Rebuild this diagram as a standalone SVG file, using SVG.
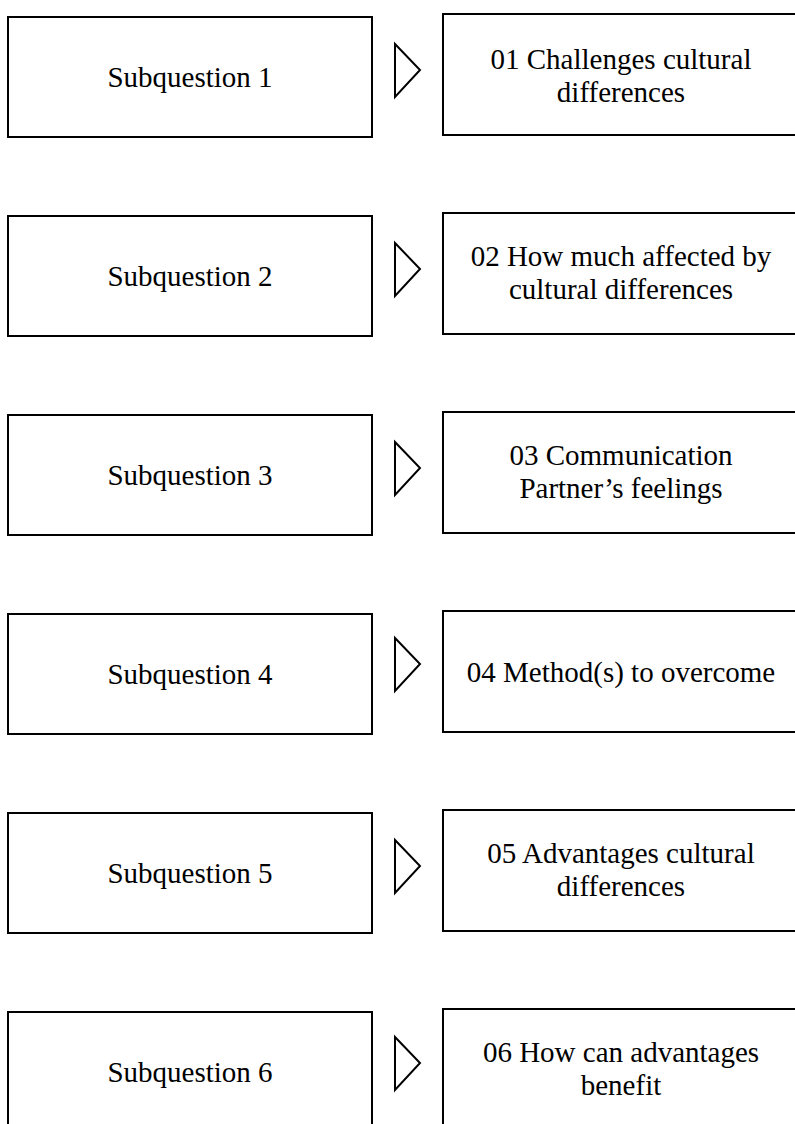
<svg xmlns="http://www.w3.org/2000/svg" width="795" height="1124" viewBox="0 0 795 1124">
<style>
.box{fill:#fff;stroke:#000;stroke-width:2}
.tri{fill:#fff;stroke:#000;stroke-width:2;stroke-linejoin:miter}
text{font-family:"Liberation Serif","Times New Roman",serif;font-size:29px;fill:#000;text-anchor:middle}
</style>
<rect width="795" height="1124" fill="#fff"/>
<g id="q1"><rect class="box" x="8" y="17" width="364" height="120"/><text x="190" y="87">Subquestion 1</text></g>
<g id="a1"><rect class="box" x="443" y="14" width="360" height="121"/><text x="621" y="69">01 Challenges cultural</text><text x="621" y="102">differences</text></g>
<g id="q2"><rect class="box" x="8" y="216" width="364" height="120"/><text x="190" y="286">Subquestion 2</text></g>
<g id="a2"><rect class="box" x="443" y="213" width="360" height="121"/><text x="621" y="266">02 How much affected by</text><text x="621" y="299">cultural differences</text></g>
<g id="q3"><rect class="box" x="8" y="415" width="364" height="120"/><text x="190" y="485">Subquestion 3</text></g>
<g id="a3"><rect class="box" x="443" y="412" width="360" height="121"/><text x="621" y="465">03 Communication</text><text x="621" y="498">Partner’s feelings</text></g>
<g id="q4"><rect class="box" x="8" y="614" width="364" height="120"/><text x="190" y="684">Subquestion 4</text></g>
<g id="a4"><rect class="box" x="443" y="611" width="360" height="121"/><text x="621" y="682">04 Method(s) to overcome</text></g>
<g id="q5"><rect class="box" x="8" y="813" width="364" height="120"/><text x="190" y="883">Subquestion 5</text></g>
<g id="a5"><rect class="box" x="443" y="810" width="360" height="121"/><text x="621" y="863">05 Advantages cultural</text><text x="621" y="896">differences</text></g>
<g id="q6"><rect class="box" x="8" y="1012" width="364" height="120"/><text x="190" y="1082">Subquestion 6</text></g>
<g id="a6"><rect class="box" x="443" y="1009" width="360" height="121"/><text x="621" y="1062">06 How can advantages</text><text x="621" y="1095">benefit</text></g>
<g id="connectors">
<polygon class="tri" points="395,44 420,70 395,97"/>
<polygon class="tri" points="395,243 420,269 395,296"/>
<polygon class="tri" points="395,442 420,468 395,495"/>
<polygon class="tri" points="395,638 420,664 395,691"/>
<polygon class="tri" points="395,840 420,866 395,893"/>
<polygon class="tri" points="395,1037 420,1063 395,1090"/>
</g>
</svg>
